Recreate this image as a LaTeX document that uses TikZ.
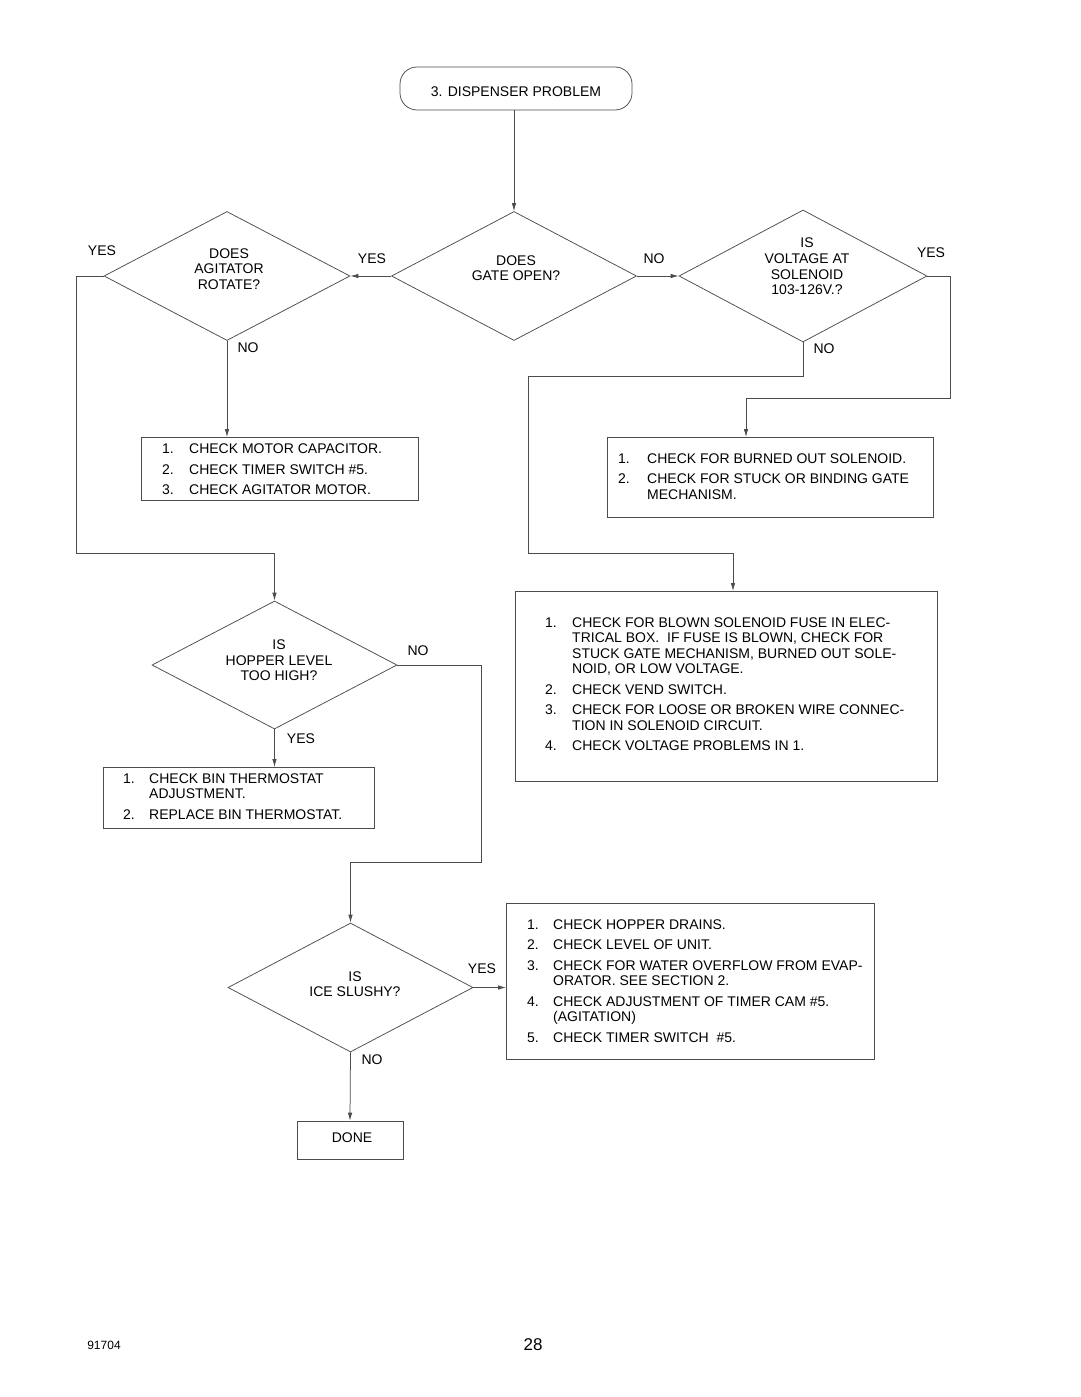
\documentclass[tikz,border=0pt]{standalone}
\usepackage{fontspec}
\setmainfont{Liberation Sans}
\usetikzlibrary{shapes.geometric,arrows.meta,calc}
\begin{document}
\begin{tikzpicture}[x=1pt,y=-1pt,
  ln/.style={draw=black!70, line width=0.75pt},
  arr/.style={ln, -{Latex[length=8pt,width=4.5pt]}},
  dec/.style 2 args={diamond, ln, inner sep=0pt, minimum width=#1, minimum height=#2},
  boxn/.style 2 args={rectangle, ln, inner sep=0pt, anchor=north west, minimum width=#1, minimum height=#2},
  txt/.style={inner sep=0pt, font=\fontsize{14}{15.6}\selectfont},
  dtxt/.style={txt, align=center},
  lst/.style={txt, anchor=base west},
  lab/.style={txt}
]
\fill[white] (0,0) rectangle (1080,1397);
\useasboundingbox (0,0) rectangle (1080,1397);

% start
\node[rectangle, ln, rounded corners=17pt, minimum width=232pt, minimum height=43pt, inner sep=0pt, txt] (start) at (516,88.5) {\raisebox{-3.5pt}[\height][\depth]{3. DISPENSER PROBLEM}};

% decisions
\node[dec={246pt}{129pt}] (agit) at (227,276) {};
\node[dtxt] (agitT) at (229,269) {DOES\\AGITATOR\\ROTATE?};
\node[dec={245pt}{129pt}] (gate) at (514,276) {};
\node[dtxt] (gateT) at (516,268) {DOES\\GATE OPEN?};
\node[dec={248pt}{132pt}] (volt) at (803,276) {};
\node[dtxt] (voltT) at (807,266.5) {IS\\VOLTAGE AT\\SOLENOID\\103-126V.?};
\node[dec={245pt}{128pt}] (hop) at (274.5,665) {};
\node[dtxt] (hopT) at (279,660.5) {IS\\HOPPER LEVEL\\TOO HIGH?};
\node[dec={245pt}{129pt}] (ice) at (350.5,987.5) {};
\node[dtxt] (iceT) at (355,984) {IS\\ICE SLUSHY?};

% boxes
\node[boxn={277pt}{63pt}] (b1) at (141,437) {};
\node[lst] (b1T) at (162,453.5) {\begin{tabular}[t]{@{}p{27pt}@{}l@{}}
1. & CHECK MOTOR CAPACITOR.\\[4.9pt]
2. & CHECK TIMER SWITCH \#5.\\[4.9pt]
3. & CHECK AGITATOR MOTOR.\end{tabular}};

\node[boxn={326pt}{80pt}] (b2) at (607,437) {};
\node[lst] (b2T) at (618,463) {\begin{tabular}[t]{@{}p{29pt}@{}l@{}}
1. & CHECK FOR BURNED OUT SOLENOID.\\[4.9pt]
2. & CHECK FOR STUCK OR BINDING GATE\\
   & MECHANISM.\end{tabular}};

\node[boxn={422pt}{190pt}] (b3) at (515,591) {};
\node[lst] (b3T) at (545,627) {\begin{tabular}[t]{@{}p{27pt}@{}l@{}}
1. & CHECK FOR BLOWN SOLENOID FUSE IN ELEC-\\
   & TRICAL BOX.\ \ IF FUSE IS BLOWN, CHECK FOR\\
   & STUCK GATE MECHANISM, BURNED OUT SOLE-\\
   & NOID, OR LOW VOLTAGE.\\[4.9pt]
2. & CHECK VEND SWITCH.\\[4.9pt]
3. & CHECK FOR LOOSE OR BROKEN WIRE CONNEC-\\
   & TION IN SOLENOID CIRCUIT.\\[4.9pt]
4. & CHECK VOLTAGE PROBLEMS IN 1.\end{tabular}};

\node[boxn={271pt}{61pt}] (b4) at (103,767) {};
\node[lst] (b4T) at (123,783) {\begin{tabular}[t]{@{}p{26pt}@{}l@{}}
1. & CHECK BIN THERMOSTAT\\
   & ADJUSTMENT.\\[4.9pt]
2. & REPLACE BIN THERMOSTAT.\end{tabular}};

\node[boxn={368pt}{156pt}] (b5) at (506,903) {};
\node[lst] (b5T) at (527,929) {\begin{tabular}[t]{@{}p{26pt}@{}l@{}}
1. & CHECK HOPPER DRAINS.\\[4.9pt]
2. & CHECK LEVEL OF UNIT.\\[4.9pt]
3. & CHECK FOR WATER OVERFLOW FROM EVAP-\\
   & ORATOR. SEE SECTION 2.\\[4.9pt]
4. & CHECK ADJUSTMENT OF TIMER CAM \#5.\\
   & (AGITATION)\\[4.9pt]
5. & CHECK TIMER SWITCH\ \ \#5.\end{tabular}};

\node[rectangle, ln, inner sep=0pt, minimum width=106pt, minimum height=38pt, txt] (done) at (350,1140) {\hspace*{4pt}\raisebox{2pt}[\height][\depth]{DONE}};

% labels
\node[lab] (l1) at (102,251) {YES};
\node[lab] (l2) at (372,259) {YES};
\node[lab] (l3) at (654,259) {NO};
\node[lab] (l4) at (931,253) {YES};
\node[lab] (l5) at (248,348) {NO};
\node[lab] (l6) at (824,349) {NO};
\node[lab] (l7) at (418,651) {NO};
\node[lab] (l8) at (301,739) {YES};
\node[lab] (l9) at (482,969) {YES};
\node[lab] (l10) at (372,1060) {NO};

% bend points
\coordinate (aY1) at (76,276);
\coordinate (aY2) at (76,553);
\coordinate (vY1) at (950,276);
\coordinate (vY2) at (950,398);
\coordinate (vY3) at (746,398);
\coordinate (vN1) at (803,376);
\coordinate (vN2) at (528,376);
\coordinate (vN3) at (528,553);
\coordinate (vN4) at (733,553);
\coordinate (hN1) at (481,665);
\coordinate (hN2) at (481,862);

% connectors
\draw[arr] (gate.north |- start.south) -- (gate.north);
\draw[arr] (gate.west) -- (agit.east);
\draw[arr] (gate.east) -- (volt.west);
\draw[arr] (agit.west) -- (aY1) -- (aY2) -| (hop.north);
\draw[arr] (agit.south) -- (agit.south |- b1.north);
\draw[arr] (volt.east) -- (vY1) -- (vY2) -- (vY3) -- (vY3 |- b2.north);
\draw[arr] (volt.south) -- (vN1) -- (vN2) -- (vN3) -- (vN4) -- (vN4 |- b3.north);
\draw[arr] (hop.south) -- (hop.south |- b4.north);
\draw[arr] (hop.east) -- (hN1) -- (hN2) -| (ice.north);
\draw[arr] (ice.east) -- (ice.east -| b5.west);
\draw[arr] (ice.south) -- (done.north);

% footer
\node[inner sep=0pt, font=\fontsize{12}{14}\selectfont] (foot1) at (104,1345) {91704};
\node[inner sep=0pt, font=\fontsize{17}{20}\selectfont] (foot2) at (533,1345) {28};
\end{tikzpicture}
\end{document}
